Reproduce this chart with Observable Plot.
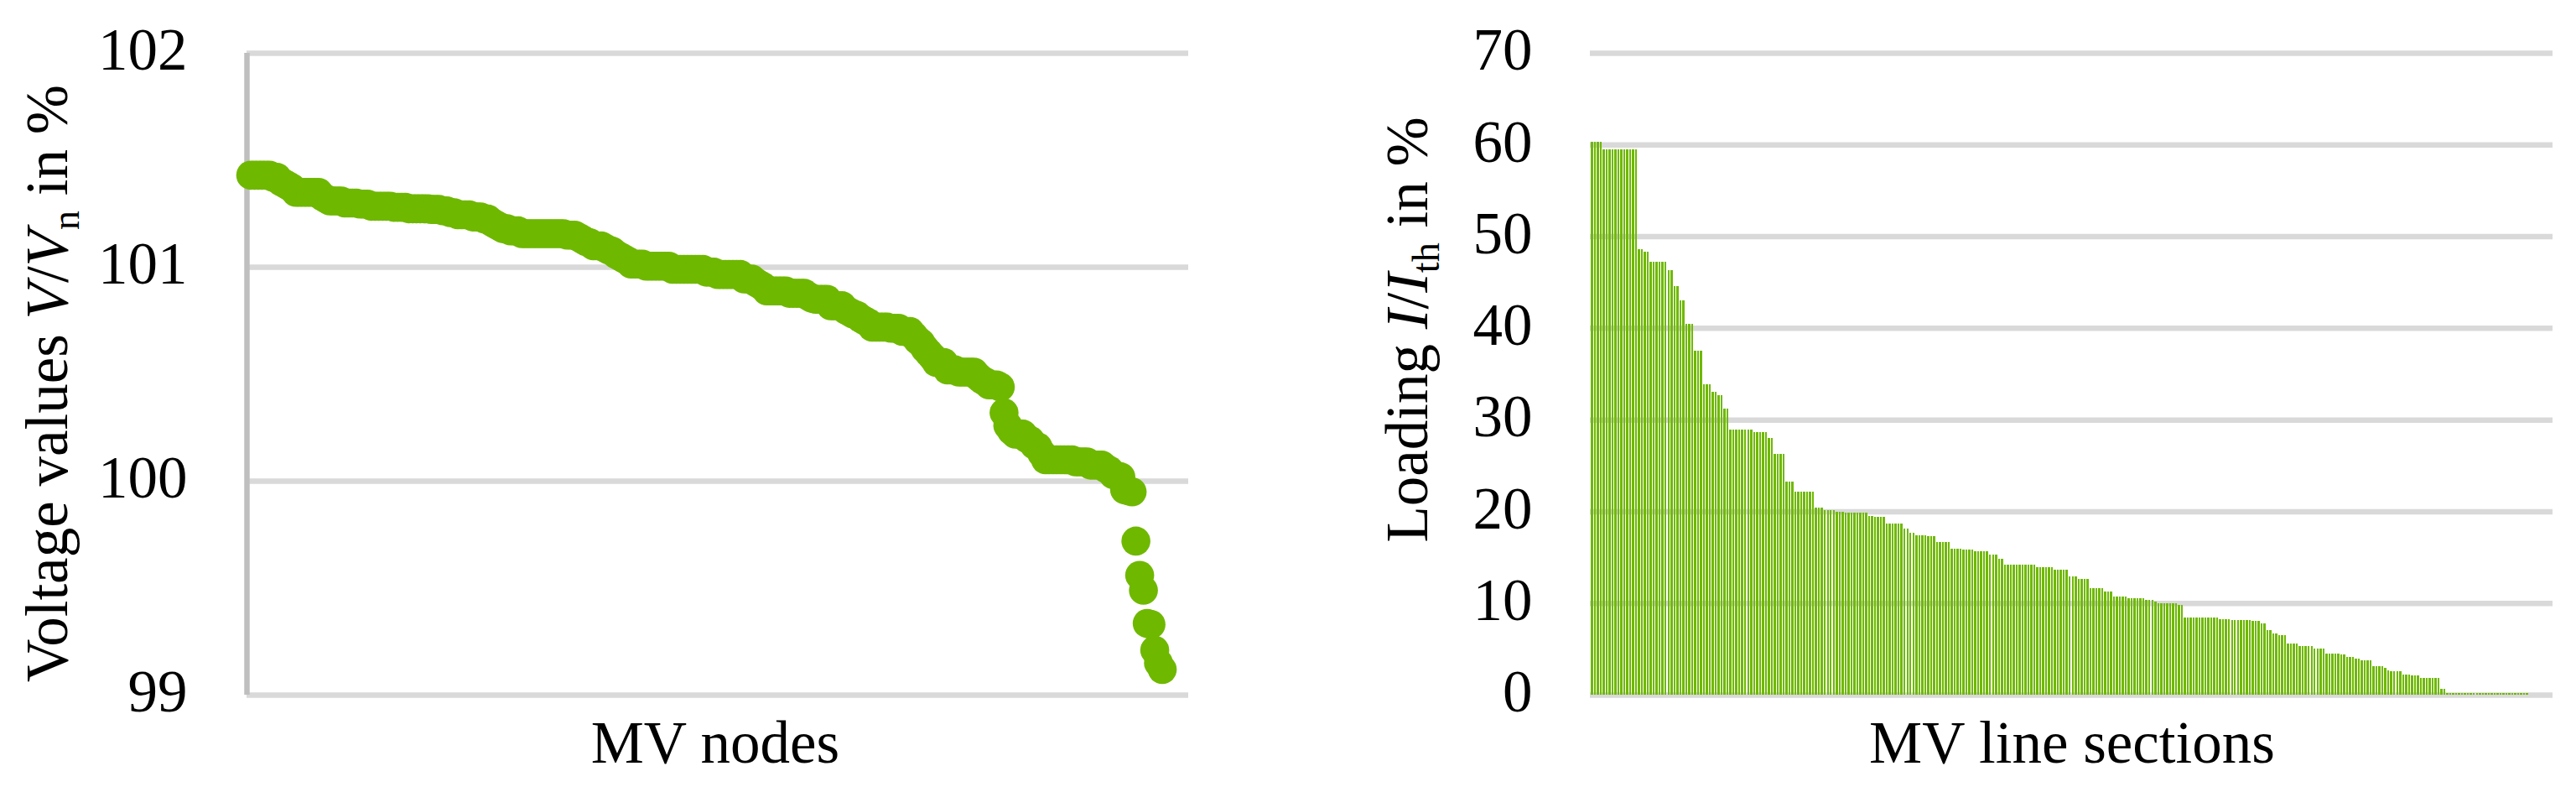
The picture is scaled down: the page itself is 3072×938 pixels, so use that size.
<!DOCTYPE html>
<html>
<head>
<meta charset="utf-8">
<script src="https://cdn.jsdelivr.net/npm/d3@7"></script>
<script src="https://cdn.jsdelivr.net/npm/@observablehq/plot@0.6"></script>
<style>
  html, body { margin: 0; padding: 0; background: #fff; }
  #wrap { width: 3072px; height: 938px; display: flex; flex-direction: row; background: #fff; }
  #wrap svg { display: block; max-width: none !important; }
</style>
</head>
<body>
<div id="wrap"></div>
<script>
// ---- Left chart: voltage values of MV nodes (sorted) ----
const voltage = [
  101.43,101.43,101.43,101.43,101.43,101.43,
  101.42,101.42,
  101.40,101.39,101.38,101.37,
  101.35,101.35,101.35,101.35,101.35,101.35,101.35,
  101.33,101.32,
  101.31,101.31,101.31,101.31,
  101.30,101.30,101.30,101.30,
  101.295,101.295,101.295,
  101.285,101.285,101.285,101.285,101.285,101.285,
  101.28,101.28,101.28,101.28,
  101.273,101.273,101.273,101.273,101.273,101.273,
  101.27,101.27,101.27,
  101.264,101.264,
  101.255,101.255,
  101.245,101.245,101.245,101.245,
  101.235,101.235,101.235,
  101.225,101.225,
  101.21,101.20,101.19,101.18,101.18,
  101.17,101.17,101.17,
  101.157,101.157,101.157,101.157,101.157,101.157,101.157,101.157,101.157,101.157,101.157,101.157,
  101.15,101.15,101.15,
  101.14,101.13,101.12,101.115,
  101.10,101.10,101.10,
  101.09,101.08,101.075,101.06,101.05,101.04,101.03,
  101.015,101.015,101.015,101.015,
  101.005,101.005,101.005,101.005,101.005,101.005,101.005,
  100.99,100.99,100.99,100.99,100.99,100.99,100.99,100.99,100.99,
  100.977,100.977,100.977,
  100.966,100.966,100.966,100.966,100.966,100.966,100.966,
  100.945,100.945,100.945,
  100.93,100.92,100.91,
  100.889,100.889,100.889,100.889,100.889,100.889,
  100.878,100.878,100.878,100.878,100.878,
  100.865,100.855,
  100.85,100.85,100.85,100.85,
  100.82,100.82,100.82,100.82,
  100.80,100.79,100.78,100.775,100.76,100.75,100.74,
  100.72,100.72,100.72,100.72,100.72,
  100.715,100.715,100.715,
  100.70,100.70,100.70,
  100.68,100.66,100.645,100.62,100.60,100.58,
  100.555,100.555,100.555,
  100.52,100.52,100.52,
  100.51,100.51,100.51,100.51,100.51,
  100.49,100.475,100.465,
  100.45,100.45,100.45,
  100.44,100.32,100.26,100.235,
  100.22,100.22,100.22,
  100.20,100.19,100.17,100.16,100.13,
  100.10,100.10,100.10,100.10,100.10,100.10,100.10,100.10,
  100.09,100.09,100.09,100.09,
  100.075,100.075,100.075,100.075,
  100.06,100.05,100.03,100.025,100.02,
  99.96,99.955,99.95,
  99.72,99.56,99.49,99.335,99.33,99.21,99.15,99.12
];
const voltTicks = [99, 100, 101, 102];
const voltDomainX = [0, 250];

// ---- Right chart: loading of MV line sections (sorted) ----
const loading = [
  60.3,60.3,60.3,60.3,
  59.5,59.5,59.5,59.5,59.5,59.5,59.5,59.5,59.5,59.5,59.5,59.5,
  48.6,48.6,48.3,48.3,
  47.2,47.2,47.2,47.2,47.2,47.2,
  46.3,46.3,44.6,44.6,43.0,43.0,
  40.4,40.4,40.4,37.5,37.5,37.5,
  33.9,33.9,33.9,33.0,33.0,32.7,32.7,31.2,31.2,
  28.9,28.9,28.9,28.9,28.9,28.9,28.9,28.9,
  28.6,28.6,28.6,28.6,28.6,
  28.0,28.0,
  26.3,26.3,26.3,26.3,
  23.2,23.2,23.2,
  22.1,22.1,22.1,22.1,22.1,22.1,22.1,
  20.4,20.4,20.4,
  20.13,20.13,20.13,20.13,
  19.95,19.95,19.95,
  19.85,19.85,19.85,19.85,19.85,19.85,19.85,19.85,
  19.5,19.5,
  19.4,19.4,19.4,19.4,
  18.66,18.66,18.66,18.66,18.66,18.66,
  18.1,18.1,17.66,17.66,
  17.38,17.38,17.38,17.38,
  17.3,17.33,17.33,
  16.68,16.68,16.68,16.68,16.68,
  15.95,15.95,15.95,15.95,
  15.85,15.85,15.85,15.85,
  15.66,15.66,15.66,15.66,15.66,
  15.31,15.31,15.31,
  14.86,14.86,
  14.22,14.22,14.22,14.22,14.22,14.22,14.22,14.22,14.22,14.22,14.22,
  13.93,13.93,13.93,13.93,13.93,13.93,
  13.67,13.67,13.67,13.67,13.67,
  12.94,12.94,12.94,
  12.65,12.65,12.65,12.65,
  11.66,11.66,11.66,11.66,11.66,
  11.21,11.21,11.21,
  10.73,10.73,10.73,10.73,10.73,
  10.54,10.54,10.54,10.54,10.54,10.54,
  10.38,10.38,10.38,
  10.18,
  9.99,9.99,9.99,9.99,9.99,9.99,9.99,
  9.83,9.83,
  8.45,8.45,8.45,8.45,8.45,8.45,8.45,8.45,8.45,8.45,8.45,8.45,
  8.26,8.26,8.26,8.26,
  8.17,8.17,8.17,8.17,8.17,8.17,8.17,
  8.07,8.07,8.07,
  7.78,7.78,
  7.07,7.07,6.7,6.7,
  6.52,6.52,6.52,
  5.61,5.61,5.61,5.61,
  5.34,5.34,5.34,5.34,5.34,
  5.06,5.06,5.06,5.06,
  4.51,4.51,4.51,4.51,4.51,
  4.42,4.42,
  4.15,4.15,4.15,
  3.96,3.96,
  3.78,3.78,3.78,3.78,
  3.14,3.14,3.14,3.14,
  2.96,2.68,
  2.59,2.59,2.59,2.59,
  2.23,2.23,2.23,
  2.13,2.13,2.13,
  1.86,1.86,1.86,1.86,1.86,1.86,1.86,
  0.67,0.67,
  0.15,0.15,0.15,0.15,0.15,0.15,0.15,0.15,0.15,0.15,0.15,0.15,0.15,0.15,
  0.15,0.15,0.15,0.15,0.15,0.15,0.15,0.15,0.15,0.15,0.15,0.15,0.15,0.15,
  0,0,0,0,0,0,0,0
];
const loadTicks = [0, 10, 20, 30, 40, 50, 60, 70];

const green = "#6fb800";
const gridColor = "#d9d9d9";
const axisColor = "#bfbfbf";
const font = "'Liberation Serif', 'DejaVu Serif', serif";
const fs = 71;

const baseStyle = {fontFamily: font, fontSize: fs + "px", color: "#000", background: "#fff", overflow: "visible"};

const left = Plot.plot({
  width: 1536, height: 938,
  marginLeft: 294, marginRight: 119, marginTop: 63, marginBottom: 110,
  x: {domain: voltDomainX, axis: null},
  y: {domain: [99, 102], axis: null},
  style: baseStyle,
  marks: [
    Plot.ruleY(voltTicks, {stroke: gridColor, strokeWidth: 6.5}),
    Plot.ruleX([voltDomainX[0]], {stroke: axisColor, strokeWidth: 6.5}),
    Plot.axisY(voltTicks, {tickSize: 0, tickPadding: 71, label: null, fontSize: fs, dy: -3, tickFormat: d3.format("d")}),
    Plot.dot(voltage, {x: (d, i) => i + 1, y: d => d, r: 17.3, fill: green, stroke: null})
  ]
});

const right = Plot.plot({
  width: 1536, height: 938,
  marginLeft: 360, marginRight: 28, marginTop: 63, marginBottom: 110,
  x: {type: "band", domain: d3.range(loading.length), padding: 0.3, axis: null},
  y: {domain: [0, 70], axis: null},
  style: baseStyle,
  marks: [
    Plot.ruleY(loadTicks, {stroke: gridColor, strokeWidth: 6.5}),
    Plot.axisY(loadTicks, {tickSize: 0, tickPadding: 69, label: null, fontSize: fs, dy: -3, tickFormat: d3.format("d")}),
    Plot.barY(loading, {x: (d, i) => i, y: d => d, fill: green, shapeRendering: "crispEdges"})
  ]
});

const wrap = document.getElementById("wrap");
wrap.appendChild(left);
wrap.appendChild(right);

// ---- Axis titles (real text, with italic symbols and subscripts) ----
function yTitle(svg, x, y, parts) {
  const t = d3.select(svg).append("text")
    .attr("transform", `translate(${x},${y}) rotate(-90)`)
    .attr("text-anchor", "middle")
    .attr("font-family", font)
    .attr("font-size", fs)
    .attr("fill", "#000");
  for (const p of parts) {
    const s = t.append("tspan").text(p.t);
    if (p.i) s.attr("font-style", "italic");
    if (p.sub) s.attr("font-size", fs * 0.65).attr("dy", 14);
    if (p.up) s.attr("dy", -14);
  }
}
function xTitle(svg, x, y, label) {
  d3.select(svg).append("text")
    .attr("x", x).attr("y", y)
    .attr("text-anchor", "middle")
    .attr("font-family", font)
    .attr("font-size", fs)
    .attr("fill", "#000")
    .text(label);
}

yTitle(left, 80, 457, [
  {t: "Voltage values "}, {t: "V", i: true}, {t: "/"}, {t: "V", i: true},
  {t: "n", sub: true}, {t: " in %", up: true}
]);
xTitle(left, 853, 909, "MV nodes");

yTitle(right, 166, 393, [
  {t: "Loading "}, {t: "I", i: true}, {t: "/"}, {t: "I", i: true},
  {t: "th", sub: true}, {t: " in %", up: true}
]);
xTitle(right, 935, 909, "MV line sections");
</script>
</body>
</html>
